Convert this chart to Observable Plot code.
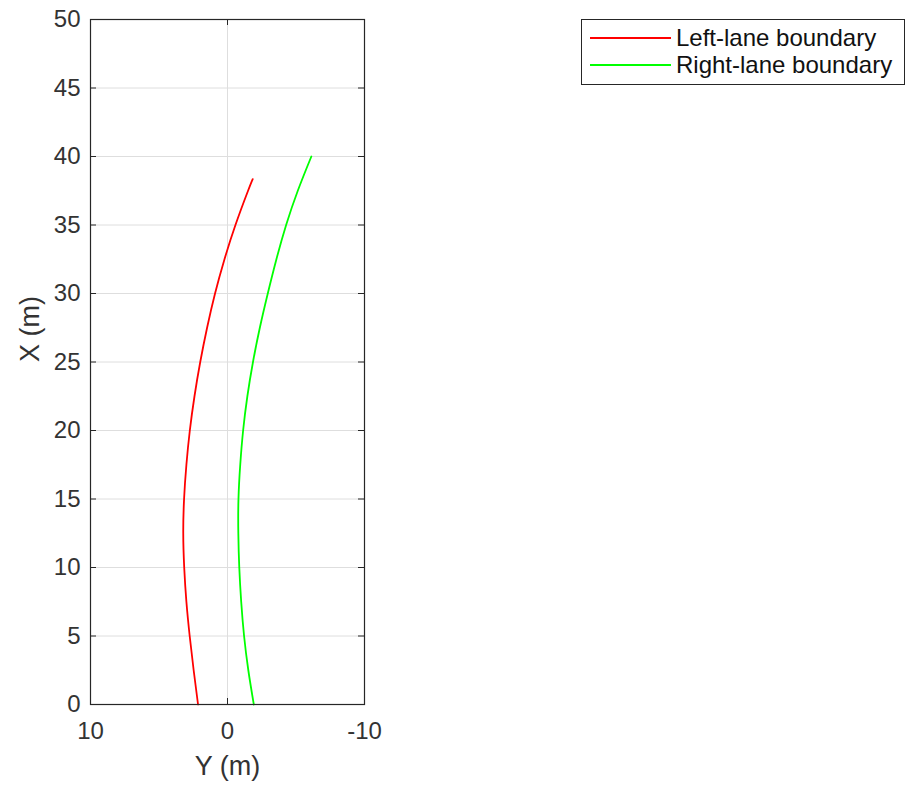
<!DOCTYPE html>
<html>
<head>
<meta charset="utf-8">
<script src="https://cdn.jsdelivr.net/npm/d3@7"></script>
<script src="https://cdn.jsdelivr.net/npm/@observablehq/plot@0.6"></script>
<style>
  body { margin: 0; background: #fff; }
  #wrap { position: relative; width: 906px; height: 787px; font-family: "Liberation Sans", Arial, Helvetica, sans-serif; }
  #legend { position: absolute; left: 581px; top: 19px; width: 324px; height: 66px; box-sizing: border-box;
            border: 1px solid #262626; background: #fff; }
  .row { position: absolute; left: 0; height: 28px; line-height: 28px; font-size: 24px; color: #111; white-space: nowrap; }
  .row svg { position: absolute; left: 8px; top: 0; }
  .row span { position: absolute; left: 94px; top: 0; }
</style>
</head>
<body>
<div id="wrap"><div id="legend"></div></div>
<script>
// ---- data ----
const seriesNames = ["Left-lane boundary", "Right-lane boundary"];
const seriesColors = ["#ff0000", "#00ff00"];
const leftX = [0, 2.5, 5, 7.5, 10, 12.5, 15, 17.5, 20, 22.5, 25, 27.5, 30, 32.5, 35, 37.5, 38.35];
const leftY = [2.15, 2.47, 2.76, 3.00, 3.16, 3.23, 3.17, 3.00, 2.75, 2.41, 1.99, 1.49, 0.91, 0.22, -0.58, -1.50, -1.84];
const rightX = [0, 2.5, 5, 7.5, 10, 12.5, 15, 17.5, 20, 22.5, 25, 27.5, 30, 32.5, 35, 37.5, 40];
const rightY = [-1.92, -1.52, -1.21, -1.00, -0.86, -0.79, -0.80, -0.93, -1.14, -1.45, -1.86, -2.36, -2.94, -3.57, -4.28, -5.13, -6.12];
const xTicks = [10, 0, -10];          // lateral Y (m), reversed horizontal axis
const yTicks = [0, 5, 10, 15, 20, 25, 30, 35, 40, 45, 50]; // longitudinal X (m)
const xLabel = "Y (m)";
const yLabel = "X (m)";

// ---- table ----
const rows = [
  ...leftX.map((v, i) => ({series: seriesNames[0], X: v, Y: leftY[i]})),
  ...rightX.map((v, i) => ({series: seriesNames[1], X: v, Y: rightY[i]}))
];

const W = 906, H = 787, mL = 90, mR = 542, mT = 19, mB = 83;
const plotW = W - mL - mR, plotH = H - mT - mB;
const tickLen = 6;
const axisColor = "#262626";
const gridColor = "#dedede";
const fmt = d => String(d); // plain hyphen-minus like the reference

const chart = Plot.plot({
  width: W, height: H,
  marginLeft: mL, marginRight: mR, marginTop: mT, marginBottom: mB,
  style: {fontFamily: '"Liberation Sans", Arial, Helvetica, sans-serif', fontSize: "24px", color: "#333", background: "#fff", overflow: "visible"},
  x: {domain: [xTicks[0], xTicks[xTicks.length - 1]]},
  y: {domain: [yTicks[0], yTicks[yTicks.length - 1]]},
  color: {domain: seriesNames, range: seriesColors},
  marks: [
    Plot.ruleY(yTicks.slice(1, -1), {y: d => d, stroke: gridColor, strokeWidth: 1}),
    Plot.ruleX(xTicks.slice(1, -1), {x: d => d, stroke: gridColor, strokeWidth: 1}),
    Plot.line(rows, {x: "Y", y: "X", z: "series", stroke: "series", strokeWidth: 1.8, curve: "natural"}),
    Plot.tickY(yTicks, {y: d => d, insetRight: plotW - tickLen, stroke: axisColor}),
    Plot.tickY(yTicks, {y: d => d, insetLeft: plotW - tickLen, stroke: axisColor}),
    Plot.tickX(xTicks, {x: d => d, insetTop: plotH - tickLen, stroke: axisColor}),
    Plot.tickX(xTicks, {x: d => d, insetBottom: plotH - tickLen, stroke: axisColor}),
    Plot.frame({stroke: axisColor, strokeWidth: 1.2}),
    Plot.axisY(yTicks, {anchor: "left", tickSize: 0, tickPadding: 10, label: null, tickFormat: fmt}),
    Plot.axisX(xTicks, {anchor: "bottom", tickSize: 0, tickPadding: 17, label: null, tickFormat: fmt}),
    Plot.text([xLabel], {text: d => d, frameAnchor: "bottom", dy: 62, fontSize: 27, lineAnchor: "middle", fill: "#333"}),
    Plot.text([yLabel], {text: d => d, frameAnchor: "left", dx: -60, rotate: -90, fontSize: 27, lineAnchor: "middle", fill: "#333"})
  ]
});
document.getElementById("wrap").prepend(chart);

// ---- legend ----
const legend = document.getElementById("legend");
const rowTops = [4, 31];
seriesNames.forEach((name, i) => {
  const r = document.createElement("div");
  r.className = "row";
  r.style.top = rowTops[i] + "px";
  r.innerHTML = `<svg width="82" height="28"><line x1="0" x2="81" y1="14" y2="14" stroke="${seriesColors[i]}" stroke-width="1.8"/></svg><span>${name}</span>`;
  legend.appendChild(r);
});
</script>
</body>
</html>
